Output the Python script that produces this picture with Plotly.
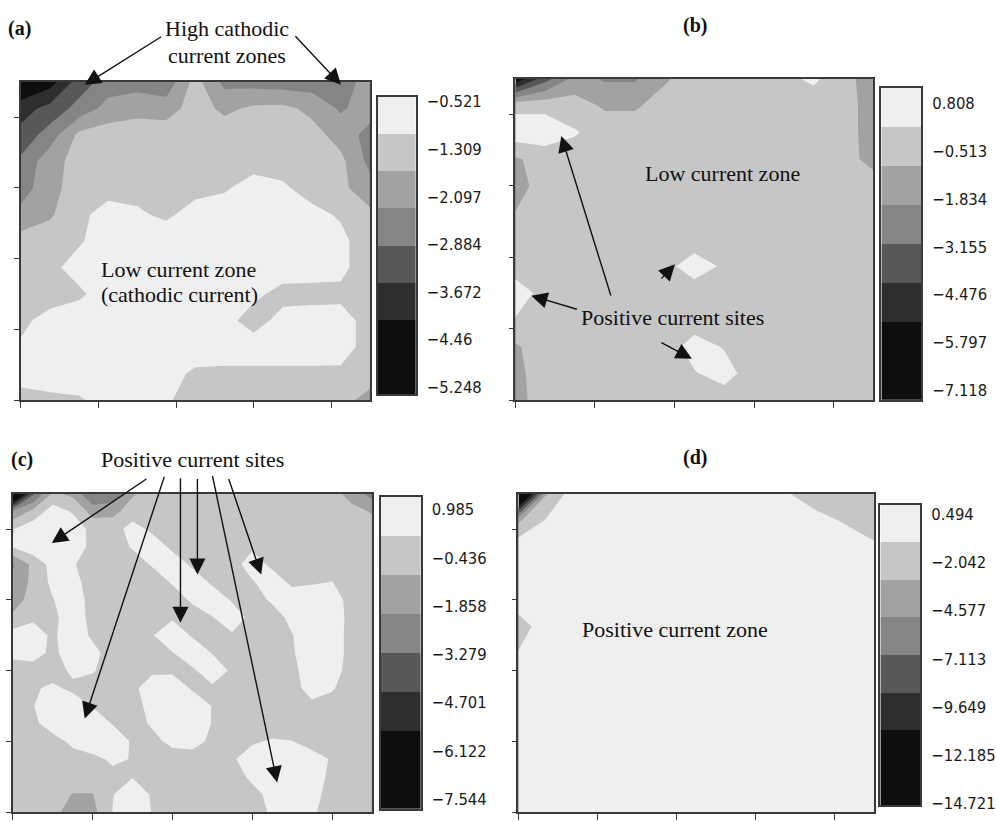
import plotly.graph_objects as go

FIG_W, FIG_H = 996, 821

# sampling grid for maps (a), (b) and (d)
x_nodes = [0.0, 0.375, 0.75, 1.125, 1.5, 1.875, 2.25, 2.625, 3.0, 3.375, 3.75, 4.125, 4.5]
y_nodes = [0.0, 0.375, 0.75, 1.125, 1.5, 1.875, 2.25, 2.625, 3.0, 3.375, 3.75, 4.125, 4.5]
# finer sampling grid for map (c)
x_nodes_c = [0.0, 0.25, 0.5, 0.75, 1.0, 1.25, 1.5, 1.75, 2.0, 2.25, 2.5, 2.75, 3.0,
             3.25, 3.5, 3.75, 4.0, 4.25, 4.5]
y_nodes_c = [0.0, 0.25, 0.5, 0.75, 1.0, 1.25, 1.5, 1.75, 2.0, 2.25, 2.5, 2.75, 3.0,
             3.25, 3.5, 3.75, 4.0, 4.25, 4.5]

# current density maps; each list of rows runs from the top edge (y = 4.5) down to y = 0
current_a = [
    [-6.2, -5.6, -4.1, -3.3, -3.2, -3.4, -1.8, -3.1, -3.2, -3.3, -3.3, -3.2, -2.6],
    [-4.8, -4.2, -3.4, -2.6, -2.4, -2.5, -1.7, -2.3, -1.95, -1.9, -2.3, -3.0, -2.5],
    [-4.2, -3.3, -1.9, -1.7, -1.6, -1.6, -1.6, -1.6, -1.6, -1.6, -1.8, -2.4, -3.2],
    [-3.5, -2.4, -1.8, -1.6, -1.6, -1.6, -1.6, -1.6, -1.6, -1.6, -1.7, -1.9, -3.1],
    [-3.3, -2.3, -1.8, -1.6, -1.55, -1.6, -1.55, -1.4, -1.0, -1.2, -1.6, -1.9, -2.6],
    [-2.6, -2.2, -1.5, -1.0, -1.2, -1.45, -1.0, -0.9, -0.85, -0.9, -1.1, -1.4, -1.9],
    [-1.8, -1.7, -1.4, -0.9, -0.85, -0.85, -0.85, -0.85, -0.85, -0.85, -0.9, -1.1, -1.8],
    [-1.8, -1.5, -1.0, -0.85, -0.85, -0.85, -0.85, -0.85, -0.85, -0.85, -0.9, -1.1, -1.8],
    [-1.8, -1.7, -1.45, -0.9, -0.85, -0.85, -0.85, -0.9, -1.1, -1.6, -1.6, -1.5, -1.8],
    [-1.5, -1.0, -0.85, -0.85, -0.85, -0.85, -0.85, -1.0, -1.7, -1.0, -0.9, -1.0, -1.6],
    [-1.2, -0.9, -0.85, -0.85, -0.85, -0.85, -0.85, -0.85, -0.85, -0.85, -0.85, -1.0, -1.6],
    [-1.0, -0.85, -0.85, -0.85, -0.9, -1.0, -1.45, -1.5, -1.5, -1.5, -1.5, -1.45, -1.7],
    [-1.6, -1.5, -1.4, -1.0, -0.9, -1.2, -1.7, -1.8, -1.8, -1.8, -1.8, -1.8, -2.4],
]

current_b = [
    [-8.2, -5.0, -2.6, -3.3, -3.3, -2.0, -1.2, -1.15, -1.1, -0.8, -0.3, -1.3, -2.6],
    [-0.9, -0.9, -1.3, -2.0, -2.0, -1.3, -1.15, -1.15, -1.15, -1.15, -1.15, -1.3, -2.4],
    [0.3, 0.3, -0.4, -1.15, -1.15, -1.15, -1.15, -1.15, -1.15, -1.15, -1.15, -1.3, -2.4],
    [-2.0, -1.3, -1.15, -1.15, -1.15, -1.15, -1.15, -1.15, -1.15, -1.15, -1.15, -1.4, -2.2],
    [-2.4, -1.2, -1.15, -1.15, -1.15, -1.15, -1.15, -1.15, -1.15, -1.15, -1.15, -1.2, -1.3],
    [-1.8, -1.15, -1.15, -1.15, -1.15, -1.15, -1.15, -1.15, -1.15, -1.15, -1.15, -1.15, -1.2],
    [-1.15, -1.15, -1.15, -1.15, -1.15, -1.15, -1.15, -1.15, -1.15, -1.15, -1.15, -1.15, -1.15],
    [-1.15, -1.15, -1.15, -1.15, -1.15, -0.9, 0.1, -0.7, -1.15, -1.15, -1.15, -1.15, -1.15],
    [0.2, -1.0, -1.15, -1.15, -1.15, -1.15, -1.15, -1.15, -1.15, -1.15, -1.15, -1.15, -1.15],
    [-0.6, -1.15, -1.15, -1.15, -1.15, -1.15, -1.15, -1.15, -1.15, -1.15, -1.15, -1.15, -1.15],
    [-2.0, -1.15, -1.15, -1.15, -1.15, -1.15, 0.0, -0.6, -1.15, -1.15, -1.15, -1.15, -1.15],
    [-2.2, -1.15, -1.15, -1.15, -1.15, -1.15, -0.6, 0.0, -1.15, -1.15, -1.15, -1.15, -1.15],
    [-2.3, -1.15, -1.15, -1.15, -1.15, -1.15, -1.15, -1.15, -1.15, -1.15, -1.15, -1.15, -1.15],
]

current_c = [
    [-12.0, -5.0, -1.6, -2.2, -4.8, -4.5, -2.0, -1.3, -1.15, -1.15, -1.15, -1.15, -1.15, -1.15, -1.15, -1.15, -1.15, -2.6, -3.8],
    [-3.0, -1.5, 0.3, -0.6, -2.4, -2.2, -1.3, -1.15, -1.15, -1.15, -1.15, -1.15, -1.15, -1.15, -1.15, -1.15, -1.15, -1.3, -2.0],
    [-0.5, 0.5, 0.5, 0.5, -0.9, -1.15, 0.2, -0.8, -1.15, -1.15, -1.15, -1.15, -1.15, -1.15, -1.15, -1.15, -1.15, -1.15, -1.2],
    [-0.3, 0.5, 0.5, 0.5, -0.9, -1.15, -0.3, 0.5, -0.8, -1.15, -1.15, -1.15, -0.7, -1.15, -1.15, -1.15, -1.15, -1.15, -1.15],
    [-3.4, -1.5, 0.1, -0.3, -1.15, -1.15, -1.15, -0.3, 0.5, -0.7, -1.15, -1.15, 0.4, -0.8, -1.15, -1.15, -1.15, -1.15, -1.15],
    [-3.0, -1.5, -0.1, 0.1, -1.15, -1.15, -1.15, -1.15, -0.3, 0.5, -0.7, -1.15, -0.6, 0.5, -0.8, -0.6, -0.4, -1.15, -1.15],
    [-2.4, -1.4, -0.5, 0.4, -1.0, -1.15, -1.15, -1.15, -1.15, -0.2, 0.5, -0.6, -1.15, -0.2, 0.5, 0.5, 0.3, -1.0, -1.15],
    [-1.6, -0.7, -0.8, 0.4, -0.9, -1.15, -1.15, -0.6, -0.6, -1.15, -0.5, 0.4, -0.9, -1.15, 0.0, 0.5, 0.5, -1.0, -1.15],
    [0.2, 0.3, -0.7, 0.5, -0.7, -1.15, -1.15, -0.5, 0.5, -0.6, -1.15, -0.6, -1.15, -1.15, -0.5, 0.5, 0.4, -1.0, -1.15],
    [0.0, 0.2, -0.8, 0.4, 0.0, -1.1, -1.15, -1.15, -0.5, 0.5, -0.5, -1.15, -1.15, -1.15, -0.6, 0.5, 0.4, -1.0, -1.15],
    [-1.15, -1.1, -1.0, -0.2, -0.3, -1.15, -1.15, -0.7, -0.7, -0.7, 0.5, -0.7, -1.15, -1.15, -0.9, 0.5, 0.3, -1.15, -1.15],
    [-1.15, -0.6, -0.2, -0.7, -1.15, -1.15, -0.8, 0.4, 0.5, -0.6, -0.7, -0.6, -1.15, -1.15, -1.0, 0.2, -0.3, -1.15, -1.15],
    [-1.15, -0.5, 0.5, 0.3, -0.5, -1.15, -1.15, 0.2, 0.5, 0.5, -0.5, -1.15, -1.15, -1.15, -1.15, -0.8, -1.0, -1.15, -1.15],
    [-1.15, -0.8, 0.3, 0.5, 0.4, -0.5, -1.15, -0.2, 0.5, 0.5, -0.5, -1.15, -1.15, -1.15, -1.15, -1.15, -1.15, -1.15, -1.15],
    [-1.15, -1.15, -1.0, -0.1, 0.5, 0.4, -0.6, -0.9, 0.0, 0.2, -0.8, -1.15, -0.6, -0.3, -0.4, -1.15, -1.15, -1.15, -1.15],
    [-1.15, -1.15, -1.15, -1.0, -0.8, -0.2, -0.5, -1.15, -1.15, -1.15, -1.15, -0.6, 0.2, 0.5, 0.5, 0.3, -0.6, -1.15, -1.15],
    [-1.15, -1.15, -1.15, -1.15, -1.15, -0.8, -0.5, -0.8, -1.15, -1.15, -1.15, -1.15, -0.1, 0.5, 0.5, 0.3, -0.8, -1.15, -1.15],
    [-1.15, -1.15, -1.3, -1.9, -1.9, -0.5, 0.4, -0.6, -1.15, -1.15, -1.15, -1.15, -0.9, 0.0, 0.5, 0.2, -1.15, -1.15, -1.2],
    [-1.15, -1.15, -1.5, -2.4, -2.3, -0.4, 0.4, -0.5, -1.15, -1.15, -1.15, -1.15, -1.15, -0.2, 0.5, -0.2, -1.15, -1.2, -1.4],
]

current_d = [
    [-24.0, -4.2, -0.3, -0.5, -0.5, -0.5, -0.5, -0.5, -0.5, -1.8, -3.3, -3.5, -3.8],
    [-5.0, -1.6, -0.5, -0.5, -0.5, -0.5, -0.5, -0.5, -0.5, -0.5, -1.2, -2.3, -3.3],
    [-0.4, -0.5, -0.5, -0.5, -0.5, -0.5, -0.5, -0.5, -0.5, -0.5, -0.5, -0.5, -1.7],
    [-0.5, -0.5, -0.5, -0.5, -0.5, -0.5, -0.5, -0.5, -0.5, -0.5, -0.5, -0.5, -0.5],
    [-0.5, -0.5, -0.5, -0.5, -0.5, -0.5, -0.5, -0.5, -0.5, -0.5, -0.5, -0.5, -0.5],
    [-3.3, -0.5, -0.5, -0.5, -0.5, -0.5, -0.5, -0.5, -0.5, -0.5, -0.5, -0.5, -0.5],
    [-1.9, -0.5, -0.5, -0.5, -0.5, -0.5, -0.5, -0.5, -0.5, -0.5, -0.5, -0.5, -0.5],
    [-0.5, -0.5, -0.5, -0.5, -0.5, -0.5, -0.5, -0.5, -0.5, -0.5, -0.5, -0.5, -0.5],
    [-0.5, -0.5, -0.5, -0.5, -0.5, -0.5, -0.5, -0.5, -0.5, -0.5, -0.5, -0.5, -0.5],
    [-0.5, -0.5, -0.5, -0.5, -0.5, -0.5, -0.5, -0.5, -0.5, -0.5, -0.5, -0.5, -0.5],
    [-0.5, -0.5, -0.5, -0.5, -0.5, -0.5, -0.5, -0.5, -0.5, -0.5, -0.5, -0.5, -0.5],
    [-0.5, -0.5, -0.5, -0.5, -0.5, -0.5, -0.5, -0.5, -0.5, -0.5, -0.5, -0.5, -0.5],
    [-0.5, -0.5, -0.5, -0.5, -0.5, -0.5, -0.5, -0.5, -0.5, -0.5, -0.5, -0.5, -0.5],
]

# contour levels shown on each colour bar, top to bottom
levels_a = [-0.521, -1.309, -2.097, -2.884, -3.672, -4.46, -5.248]
levels_b = [0.808, -0.513, -1.834, -3.155, -4.476, -5.797, -7.118]
levels_c = [0.985, -0.436, -1.858, -3.279, -4.701, -6.122, -7.544]
levels_d = [0.494, -2.042, -4.577, -7.113, -9.649, -12.185, -14.721]

labels_a = ["\u22120.521", "\u22121.309", "\u22122.097", "\u22122.884", "\u22123.672", "\u22124.46", "\u22125.248"]
labels_b = ["0.808", "\u22120.513", "\u22121.834", "\u22123.155", "\u22124.476", "\u22125.797", "\u22127.118"]
labels_c = ["0.985", "\u22120.436", "\u22121.858", "\u22123.279", "\u22124.701", "\u22126.122", "\u22127.544"]
labels_d = ["0.494", "\u22122.042", "\u22124.577", "\u22127.113", "\u22129.649", "\u221212.185", "\u221214.721"]

# grey shades of the filled bands, lowest band first
band_greys = ["#0e0e0e", "#2e2e2e", "#585858", "#858585", "#a2a2a2", "#c6c6c6", "#efefef", "#efefef"]
# colour-bar cells, bottom to top (the darkest shade spans two cells)
bar_greys = ["#0e0e0e", "#0e0e0e", "#2e2e2e", "#585858", "#858585", "#a2a2a2", "#c6c6c6", "#efefef"]

FRAME = "#3a3a3a"
SERIF = "Liberation Serif, Times New Roman, serif"
SANS = "DejaVu Sans Condensed, Liberation Sans Narrow, DejaVu Sans, sans-serif"


def px(x):
    return x / FIG_W


def py(y):
    return 1 - y / FIG_H


# page geometry of each panel: map box, colour-bar box, pixel rows of top/bottom bar labels
panels = [
    dict(z=current_a, xs=x_nodes, ys=y_nodes, levels=levels_a, labels=labels_a,
         plot=(21, 371, 79, 402), bar=(379, 417, 94, 396), lab=(99, 389)),
    dict(z=current_b, xs=x_nodes, ys=y_nodes, levels=levels_b, labels=labels_b,
         plot=(517, 876, 76, 402), bar=(884, 924, 85, 402), lab=(101, 392)),
    dict(z=current_c, xs=x_nodes_c, ys=y_nodes_c, levels=levels_c, labels=labels_c,
         plot=(13, 373, 497, 820), bar=(382, 422, 500, 817), lab=(513, 807)),
    dict(z=current_d, xs=x_nodes, ys=y_nodes, levels=levels_d, labels=labels_d,
         plot=(520, 877, 497, 820), bar=(883, 923, 508, 813), lab=(518, 811)),
]

contour_scale = [[k / 7, c] for k, c in enumerate(band_greys)]
bar_scale = [[k / 7, c] for k, c in enumerate(bar_greys)]

fig = go.Figure()
layout_axes = {}


def axname(kind, n):
    return f"{kind}axis" if n == 1 else f"{kind}axis{n}"


def axref(kind, n):
    return kind if n == 1 else f"{kind}{n}"


for i, p in enumerate(panels):
    m = 2 * i + 1      # map axes
    c = 2 * i + 2      # colour-bar axes
    lo, hi = min(p["levels"]), max(p["levels"])
    step = (hi - lo) / 6

    fig.add_trace(go.Contour(
        x=p["xs"], y=p["ys"], z=p["z"][::-1],
        xaxis=axref("x", m), yaxis=axref("y", m),
        autocontour=False,
        contours=dict(start=lo, end=hi, size=step, coloring="fill", showlines=False),
        line=dict(width=0, smoothing=0),
        colorscale=contour_scale, showscale=False, hoverinfo="skip",
    ))

    x0, x1, t0, b0 = p["plot"]
    layout_axes[axname("x", m)] = dict(
        domain=[px(x0), px(x1)], range=[0, 4.5], anchor=axref("y", m),
        showgrid=False, zeroline=False, showline=True, mirror=True,
        linecolor=FRAME, linewidth=1.6, ticks="outside", ticklen=6,
        tickwidth=1.2, tickcolor=FRAME, tick0=0, dtick=1, showticklabels=False,
    )
    layout_axes[axname("y", m)] = dict(
        domain=[py(b0), py(t0)], range=[0, 4.5], anchor=axref("x", m),
        showgrid=False, zeroline=False, showline=True, mirror=True,
        linecolor=FRAME, linewidth=1.6, ticks="outside", ticklen=5,
        tickwidth=1.2, tickcolor=FRAME, tick0=0, dtick=1, showticklabels=False,
    )

    # colour bar drawn as a one-column heatmap on its own axes
    bx0, bx1, bt, bb = p["bar"]
    yt, yb = p["lab"]
    per_px = (hi - lo) / (yb - yt)
    r_hi = hi + (yt - bt) * per_px
    r_lo = lo - (bb - yb) * per_px
    cell = (r_hi - r_lo) / 8
    centers = [r_lo + cell * (k + 0.5) for k in range(8)]
    fig.add_trace(go.Heatmap(
        x=[0.5], y=centers, z=[[k] for k in range(8)],
        colorscale=bar_scale, zmin=0, zmax=7, showscale=False,
        xaxis=axref("x", c), yaxis=axref("y", c), hoverinfo="skip",
    ))
    layout_axes[axname("x", c)] = dict(
        domain=[px(bx0), px(bx1)], range=[0, 1], anchor=axref("y", c),
        showgrid=False, zeroline=False, showline=True, mirror=True,
        linecolor=FRAME, linewidth=1.6, showticklabels=False, ticks="",
    )
    layout_axes[axname("y", c)] = dict(
        domain=[py(bb), py(bt)], range=[r_lo, r_hi], anchor=axref("x", c),
        side="right", showgrid=False, zeroline=False, showline=True, mirror=True,
        linecolor=FRAME, linewidth=1.6,
        tickmode="array", tickvals=p["levels"], ticktext=p["labels"],
        ticks="outside", ticklen=6, tickcolor="rgba(0,0,0,0)",
        tickfont=dict(family=SANS, size=16.5, color="#1a1a1a"),
    )

annotations = []


def label(text, x, y, size=22, bold=False):
    annotations.append(dict(
        text=f"<b>{text}</b>" if bold else text,
        x=px(x), y=py(y), xref="paper", yref="paper",
        xanchor="center", yanchor="middle", showarrow=False,
        font=dict(family=SERIF, size=size, color="#111111"),
    ))


def arrow(tip, tail):
    annotations.append(dict(
        text="", x=px(tip[0]), y=py(tip[1]), xref="paper", yref="paper",
        ax=tail[0] - tip[0], ay=tail[1] - tip[1], axref="pixel", ayref="pixel",
        showarrow=True, arrowhead=2, arrowsize=2.3, arrowwidth=1.4,
        arrowcolor="#111111", standoff=0,
    ))


# panel letters
label("(a)", 20, 25, size=20, bold=True)
label("(b)", 697, 22, size=20, bold=True)
label("(c)", 22, 462, size=20, bold=True)
label("(d)", 697, 460, size=20, bold=True)

# (a)
label("High cathodic", 228, 25)
label("current zones", 228, 52)
label("Low current zone", 179, 269)
label("(cathodic current)", 180, 295)
arrow((85, 82), (163, 33))
arrow((342, 82), (295, 32))

# (b)
label("Low current zone", 725, 172)
label("Positive current sites", 675, 318)
arrow((563, 134), (613, 295))
arrow((533, 296), (580, 310))
arrow((677, 264), (662, 280))
arrow((694, 360), (662, 343))

# (c)
label("Positive current sites", 193, 462)
arrow((52, 547), (148, 482))
arrow((85, 725), (165, 482))
arrow((181, 628), (181, 482))
arrow((198, 579), (198, 482))
arrow((278, 790), (213, 482))
arrow((262, 579), (229, 482))

# (d)
label("Positive current zone", 677, 635)

fig.update_layout(
    width=FIG_W, height=FIG_H, autosize=False,
    margin=dict(l=0, r=0, t=0, b=0),
    paper_bgcolor="white", plot_bgcolor="white",
    showlegend=False, annotations=annotations,
    **layout_axes,
)

fig.write_html("out.html", config={"displayModeBar": False})
